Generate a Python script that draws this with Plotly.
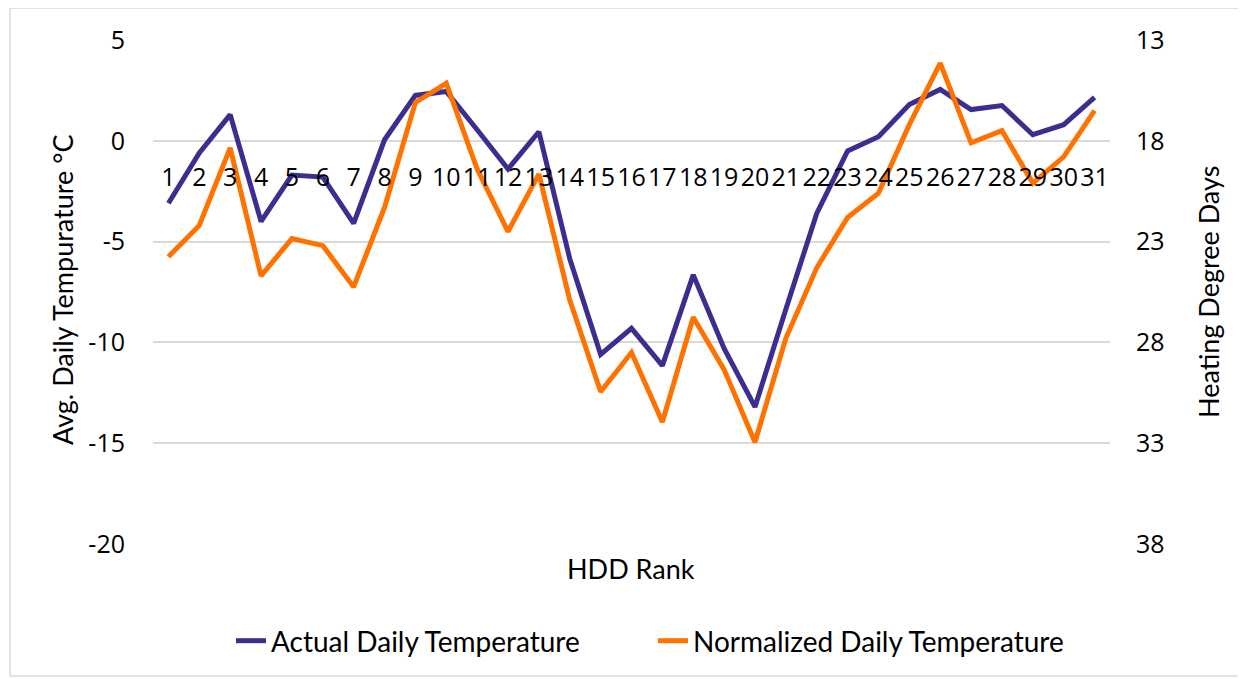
import plotly.graph_objects as go

hdd_rank = list(range(1, 32))
actual_temp = [-3.1, -0.6, 1.3, -4.0, -1.7, -1.8, -4.1, 0.05, 2.25, 2.45,
               0.55, -1.4, 0.45, -5.85, -10.6, -9.3, -11.15, -6.65, -10.3, -13.2,
               -8.35, -3.6, -0.5, 0.2, 1.8, 2.55, 1.55, 1.75, 0.3, 0.8, 2.15]
normalized_temp = [-5.75, -4.2, -0.35, -6.7, -4.85, -5.2, -7.25, -3.3, 1.9, 2.85,
                   -1.4, -4.5, -1.65, -7.9, -12.45, -10.5, -13.95, -8.75, -11.35, -14.95,
                   -9.8, -6.3, -3.8, -2.6, 0.8, 3.85, -0.1, 0.5, -2.1, -0.8, 1.5]

left_ticks = [5, 0, -5, -10, -15, -20]
left_ticktext = ["5", "0", "-5", "-10", "-15", "-20"]
right_ticks = [13, 18, 23, 28, 33, 38]

BLUE = "#3C2E8F"
ORANGE = "#FF7200"
TICKFONT = dict(family="Open Sans", size=25, color="#000000")
TEXTFONT = dict(family="Lato", size=27, color="#000000")
LEGFONT = dict(family="Lato", size=28, color="#000000")

OFF = 8  # page body margin
W, H = 1246 - OFF, 679 - OFF
L, T = 153 - OFF, 40 - OFF
pw, ph = 957, 504
R, B = W - L - pw, H - T - ph


def px_x(x):
    return (x - OFF - L) / pw


def px_y(y):
    return (T + ph - (y - OFF)) / ph


fig = go.Figure()
fig.add_trace(go.Scatter(x=hdd_rank, y=actual_temp, mode="lines", name="Actual Daily Temperature",
                         line=dict(color=BLUE, width=5)))
fig.add_trace(go.Scatter(x=hdd_rank, y=normalized_temp, mode="lines", name="Normalized Daily Temperature",
                         line=dict(color=ORANGE, width=5)))

fig.update_layout(
    width=W, height=H,
    margin=dict(l=L, r=R, t=T, b=B, autoexpand=False),
    paper_bgcolor="white", plot_bgcolor="white",
    showlegend=True,
    legend=dict(orientation="h", x=px_x(653), xanchor="center", y=px_y(641), yanchor="middle",
                font=LEGFONT, entrywidth=377, entrywidthmode="pixels"),
    xaxis=dict(range=[0.5, 31.5], tickmode="array", tickvals=hdd_rank,
               ticktext=[str(v) for v in hdd_rank], tickangle=0,
               anchor="free", position=0.8, showline=False, showgrid=False,
               zeroline=False, ticks="", tickfont=TICKFONT, ticklabelstandoff=19),
    yaxis=dict(range=[-20, 5], tickmode="array", tickvals=left_ticks, ticktext=left_ticktext,
               showgrid=True, gridcolor="#D9D9D9", gridwidth=1.5, zeroline=False,
               showline=False, ticks="", tickfont=TICKFONT, ticklabelstandoff=27),
    yaxis2=dict(range=[38, 13], overlaying="y", side="right", tickmode="array",
                tickvals=right_ticks, showgrid=False, zeroline=False, showline=False,
                ticks="", tickfont=TICKFONT, ticklabelstandoff=25),
    annotations=[
        dict(text="Avg. Daily Tempurature °C", x=px_x(62), y=px_y(290), xref="paper", yref="paper",
             textangle=-90, showarrow=False, font=TEXTFONT, xanchor="center", yanchor="middle"),
        dict(text="Heating Degree Days", x=px_x(1208), y=px_y(292), xref="paper", yref="paper",
             textangle=-90, showarrow=False, font=TEXTFONT, xanchor="center", yanchor="middle"),
        dict(text="HDD Rank", x=px_x(631), y=px_y(568), xref="paper", yref="paper",
             showarrow=False, font=TEXTFONT, xanchor="center", yanchor="middle"),
    ],
    shapes=[dict(type="rect", xref="paper", yref="paper",
                 x0=px_x(10), x1=px_x(1239), y0=px_y(676), y1=px_y(8),
                 line=dict(color="#D9D9D9", width=1.5), fillcolor="rgba(0,0,0,0)", layer="below")],
)
# invisible helper so the secondary axis is rendered
fig.add_trace(go.Scatter(x=[None], y=[None], yaxis="y2", showlegend=False, hoverinfo="skip"))

fig.write_html("out.html")
